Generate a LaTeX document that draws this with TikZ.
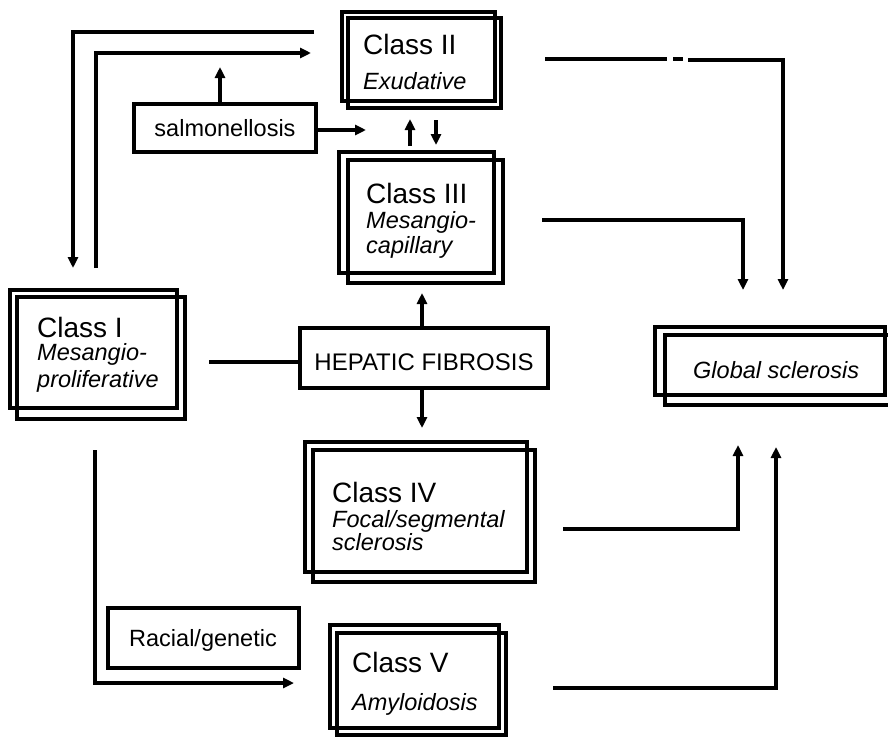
\documentclass[tikz,border=0pt]{standalone}
\usepackage{fontspec}
\setmainfont{Liberation Sans}
\usetikzlibrary{arrows.meta}
\begin{document}
\begin{tikzpicture}[x=1pt,y=-1pt,
  ln/.style={line width=3.2pt, line join=miter},
  arr/.style={ln, -{Triangle[length=11pt,width=10pt]}},
  rect/.style={draw, line width=3.2pt, inner sep=0pt, outer sep=0pt, anchor=north west},
  ttl/.style={anchor=base west, inner sep=0pt, font=\fontsize{28}{30}\selectfont},
  sub/.style={anchor=base west, inner sep=0pt, font=\fontsize{23.5}{26}\selectfont\itshape},
  lbl/.style={anchor=base, inner sep=0pt, font=\fontsize{23.5}{26}\selectfont},
]
\clip (0,0) rectangle (888,736);

% ---------- double boxes ----------
\node[rect, minimum width=153pt, minimum height=89pt] (c2b) at (342,12) {};
\node[rect, minimum width=153pt, minimum height=90pt] (c2) at (348,18) {};
\node[rect, minimum width=155pt, minimum height=121pt] (c3b) at (339,152) {};
\node[rect, minimum width=155pt, minimum height=123pt] (c3) at (348,160) {};
\node[rect, minimum width=167pt, minimum height=118pt] (c1b) at (10,290) {};
\node[rect, minimum width=168pt, minimum height=122pt] (c1) at (17,297) {};
\node[rect, minimum width=222pt, minimum height=130pt] (c4b) at (305,442) {};
\node[rect, minimum width=222pt, minimum height=132pt] (c4) at (313,450) {};
\node[rect, minimum width=169pt, minimum height=103pt] (c5b) at (330,625) {};
\node[rect, minimum width=169pt, minimum height=102pt] (c5) at (337,633) {};
\node[rect, minimum width=230pt, minimum height=68pt] (gsb) at (655,327) {};
\node[rect, minimum width=230pt, minimum height=70pt] (gs) at (665,335) {};

% ---------- single boxes ----------
\node[rect, minimum width=182pt, minimum height=48pt] (salm) at (134,104) {};
\node[rect, minimum width=248pt, minimum height=60pt] (hep) at (300,328) {};
\node[rect, minimum width=191pt, minimum height=60pt] (race) at (108,608) {};

% ---------- texts ----------
\node[ttl] (t2a) at (363,54) {Class II};
\node[sub] (t2b) at (363,89) {Exudative};
\node[ttl] (t3a) at (366,203) {Class III};
\node[sub] (t3b) at (366,228) {Mesangio-};
\node[sub] (t3c) at (366,253) {capillary};
\node[ttl] (t1a) at (37,337) {Class I};
\node[sub] (t1b) at (37,360) {Mesangio-};
\node[sub] (t1c) at (37,387) {proliferative};
\node[ttl] (t4a) at (332,502) {Class IV};
\node[sub] (t4b) at (332,527) {Focal/segmental};
\node[sub] (t4c) at (332,550) {sclerosis};
\node[ttl] (t5a) at (352,672) {Class V};
\node[sub] (t5b) at (352,710) {Amyloidosis};
\node[sub] (tgs) at (693,378) {Global sclerosis};
\node[lbl, font=\fontsize{24}{26}\selectfont] (thep) at (424,370) {HEPATIC FIBROSIS};
\node[lbl] (tsalm) at (225,136) {salmonellosis};
\node[lbl] (trace) at (203,646) {Racial/genetic};

% ---------- connector end points ----------
\coordinate (a1) at (314,32);   \coordinate (a2) at (73,268);
\coordinate (b1) at (96,268);   \coordinate (b2) at (311,53);
\coordinate (s1) at (220,104);  \coordinate (s2) at (220,67);
\coordinate (s3) at (316,130);  \coordinate (s4) at (366,130);
\coordinate (u1) at (410,146);  \coordinate (u2) at (410,119);
\coordinate (d1) at (436,120);  \coordinate (d2) at (436,145);
\coordinate (h1) at (422,328);  \coordinate (h2) at (422,293);
\coordinate (h3) at (422,388);  \coordinate (h4) at (422,428);
\coordinate (i1) at (209,362);  \coordinate (i2) at (300,362);
\coordinate (v1) at (95,450);   \coordinate (v2) at (294,683);
\coordinate (f1) at (563,529);  \coordinate (f2) at (738,445);
\coordinate (g1) at (553,688);  \coordinate (g2) at (776,447);
\coordinate (e1) at (545,59);   \coordinate (e2) at (667,59);
\coordinate (e3) at (673,59);   \coordinate (e4) at (683,59);
\coordinate (e5) at (688,60);   \coordinate (e6) at (783,290);
\coordinate (m1) at (542,220);  \coordinate (m2) at (743,290);

% ---------- connectors ----------
\draw[arr] (a1) -| (a2);
\draw[arr] (b1) |- (b2);
\draw[arr] (s1) -- (s2);
\draw[arr] (s3) -- (s4);
\draw[arr] (u1) -- (u2);
\draw[arr] (d1) -- (d2);
\draw[arr] (h1) -- (h2);
\draw[arr] (h3) -- (h4);
\draw[ln] (i1) -- (i2);
\draw[arr] (v1) |- (v2);
\draw[arr] (f1) -| (f2);
\draw[arr] (g1) -| (g2);
\draw[ln] (e1) -- (e2);
\draw[ln] (e3) -- (e4);
\draw[arr] (e5) -| (e6);
\draw[arr] (m1) -| (m2);
\end{tikzpicture}
\end{document}
